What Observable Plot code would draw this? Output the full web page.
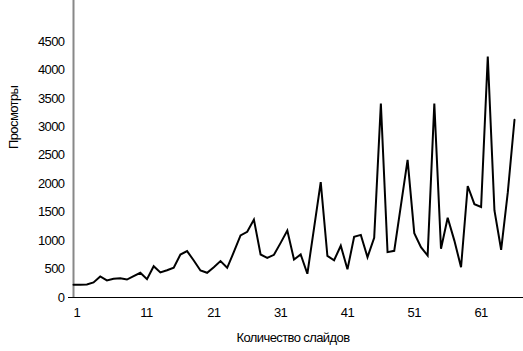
<!DOCTYPE html>
<html>
<head>
<meta charset="utf-8">
<script src="https://cdn.jsdelivr.net/npm/d3@7"></script>
<script src="https://cdn.jsdelivr.net/npm/@observablehq/plot@0.6"></script>
<style>
  html, body { margin: 0; padding: 0; background: #fff; }
  #chart svg { display: block; }
  #chart svg text { letter-spacing: -0.6px; }
</style>
</head>
<body>
<div id="chart"></div>
<script>
// Number of slides (x) and views (y)
const slides = d3.range(1, 68);
const views = [
  223, 223, 230, 265, 369, 300, 330, 340, 316, 375,
  434, 322, 550, 440, 480, 525, 756, 815, 650, 475,
  434, 530, 640, 522, 800, 1090, 1155, 1370, 756, 695,
  750, 960, 1178, 668, 756, 417, 1220, 2027, 730, 655,
  910, 495, 1065, 1100, 709, 1049, 3410, 797, 820, 1620,
  2420, 1130, 884, 738, 3410, 856, 1401, 1000, 533, 1960,
  1640, 1590, 4237, 1530, 839, 1851, 3124
];
const xTicks = [1, 11, 21, 31, 41, 51, 61];
const yTicks = [0, 500, 1000, 1500, 2000, 2500, 3000, 3500, 4000, 4500];
const xLabel = "Количество слайдов";
const yLabel = "Просмотры";

const data = slides.map((s, i) => ({slides: s, views: views[i]}));

const chart = Plot.plot({
  width: 523,
  height: 351,
  marginLeft: 73,
  marginRight: 9,
  marginTop: 0,
  marginBottom: 54,
  style: {fontFamily: "'Liberation Sans', Arial, sans-serif", fontSize: "13px", color: "#000", background: "#fff"},
  x: {domain: [1, 67], axis: null},
  y: {domain: [0, 5220], axis: null},
  marks: [
    Plot.ruleY([0], {stroke: "#000", strokeWidth: 1.2, insetLeft: -5, insetRight: -9}),
    Plot.ruleX([1], {stroke: "#888", strokeWidth: 2}),
    Plot.text(yTicks, {x: 1, y: d => d, text: d => String(d), textAnchor: "end", dx: -9, fill: "#000"}),
    Plot.text(xTicks, {x: d => d, y: 0, text: d => String(d), textAnchor: "start", dy: 15, fill: "#000"}),
    Plot.line(data, {x: "slides", y: "views", stroke: "#000", strokeWidth: 2, strokeLinejoin: "miter", strokeMiterlimit: 4}),
    Plot.text([yLabel], {frameAnchor: "left", dx: -60, rotate: -90, text: d => d, fill: "#000"}),
    Plot.text([xLabel], {frameAnchor: "bottom", dy: 44, dx: -1, text: d => d, fill: "#000"})
  ]
});
document.getElementById("chart").appendChild(chart);
</script>
</body>
</html>
